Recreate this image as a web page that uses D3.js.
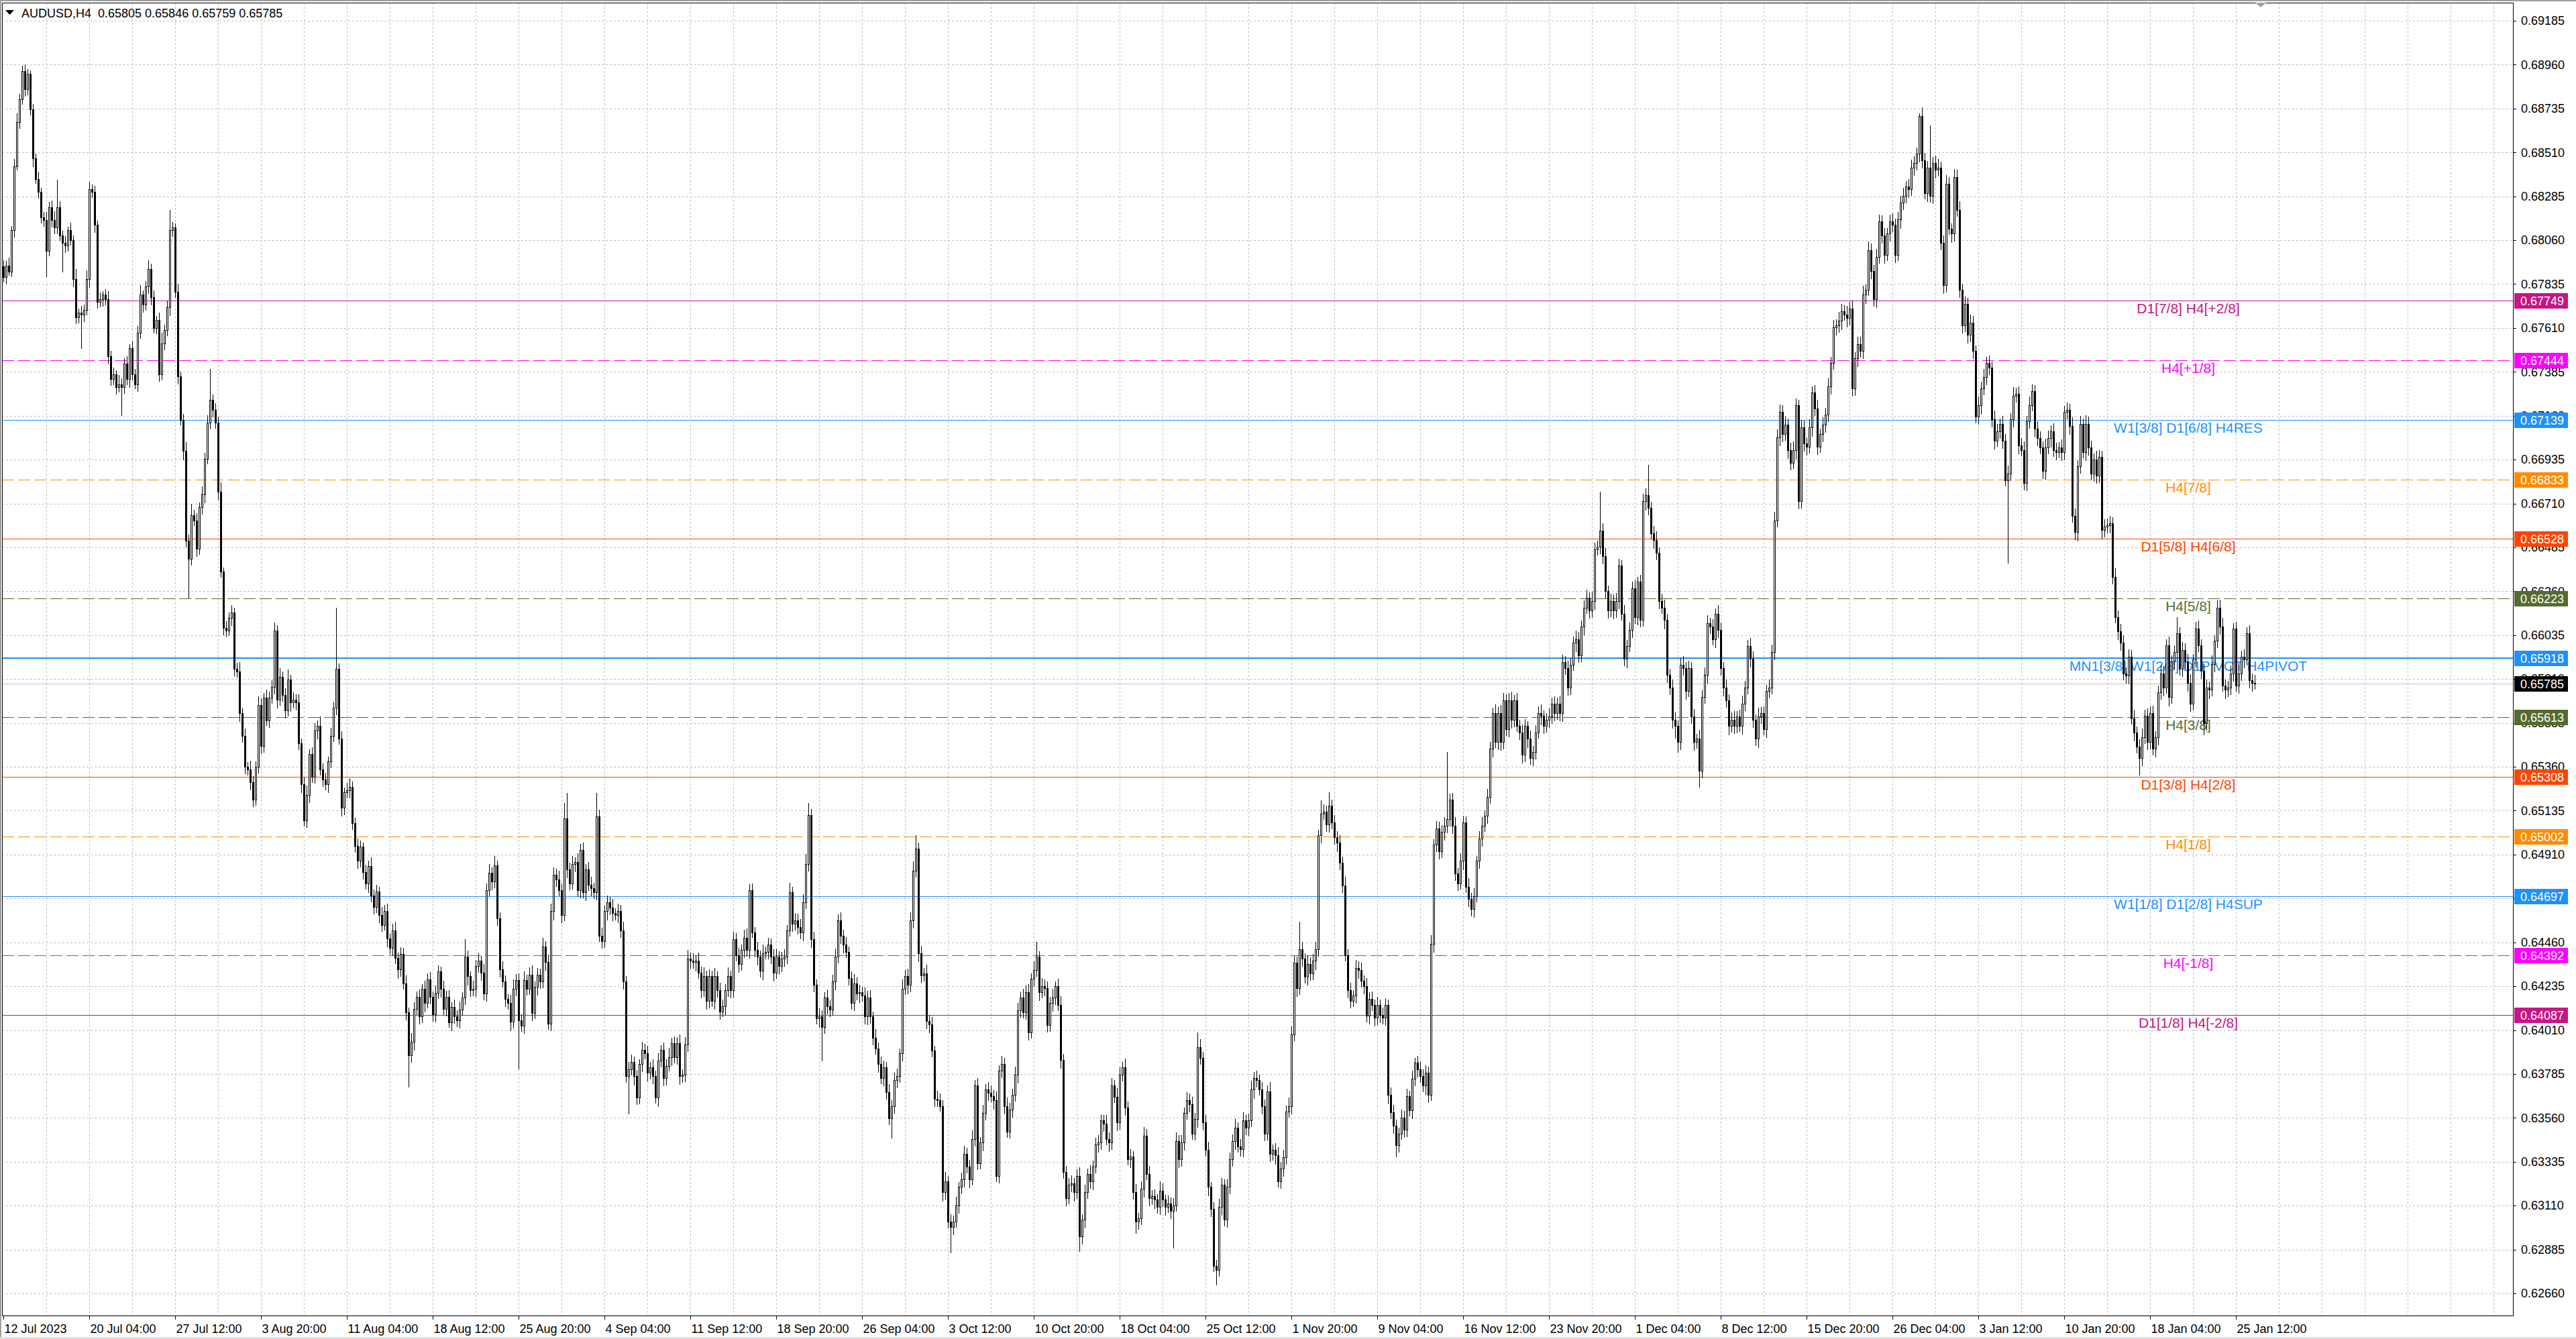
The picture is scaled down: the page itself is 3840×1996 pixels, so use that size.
<!DOCTYPE html>
<html><head><meta charset="utf-8">
<script src="https://cdn.jsdelivr.net/npm/d3@7"></script>
<style>
body{margin:0;background:#fff}
svg{display:block}
text{font-family:"Liberation Sans",Arial,sans-serif}
</style>
</head><body>
<svg id="c" width="3840" height="1996"></svg>
<script>
// ---------------- DATA (prices in 1e-5 units) ----------------
const symbolTitle = "AUDUSD,H4";
const lastOHLC = ["0.65805", "0.65846", "0.65759", "0.65785"];
const firstOpen = 67927;
const closes = [
67870,67930,67900,68111,68440,68664,68782,68927,68835,68914,68730,68480,68374,68309,68177,68164,68006,68230,68164,68124,
68230,68085,68045,68032,68111,68059,67861,67664,67690,67677,67703,67861,68322,68309,68138,67743,67756,67782,67756,67466,
67348,67374,67308,67322,67308,67427,67348,67506,67374,67322,67585,67782,67730,67822,67914,67769,67611,67651,67374,67532,
67598,67716,68111,68124,67795,67361,67137,66979,66519,66427,66650,66624,66479,66690,66756,66940,67124,67243,67190,67124,
66769,66361,66071,66058,66124,66150,65861,65848,65637,65519,65361,65348,65282,65190,65361,65677,65466,65716,65598,65716,
65769,66058,65703,65821,65729,65650,65808,65690,65703,65690,65479,65269,65084,65216,65427,65308,65545,65571,65348,65295,
65269,65387,65519,65663,65861,65506,65150,65229,65240,65256,65071,64953,64880,64950,64820,64760,64850,64700,64640,64720,
64600,64550,64620,64480,64430,64520,64380,64320,64400,64250,64100,63880,63950,64120,64180,64080,64220,64150,64270,64180,
64090,64200,64310,64220,64120,64180,64050,64130,64080,64060,64115,64178,64385,64286,64214,64223,64340,64367,64304,64196,
64727,64817,64772,64853,64583,64322,64259,64169,64151,64052,64223,64268,64061,64034,64268,64223,64295,64097,64232,64295,
64259,64439,64358,64043,64619,64808,64781,64727,64601,65096,64835,64763,64862,64871,64727,64934,64718,64835,64754,64736,
64718,65105,64493,64466,64619,64664,64637,64610,64601,64619,64520,64259,63773,63809,63845,63773,63665,63836,63908,63890,
63791,63818,63773,63665,63854,63908,63764,63827,63872,63944,63872,63944,63773,63782,63935,64376,64367,64358,64367,64304,
64214,64286,64160,64286,64160,64286,64214,64106,64133,64214,64286,64214,64475,64394,64349,64421,64484,64421,64727,64511,
64421,64385,64313,64403,64412,64448,64385,64304,64385,64340,64376,64385,64520,64718,64556,64574,64538,64511,64664,64862,
65114,64475,64241,64070,64079,64025,64178,64133,64115,64259,64385,64574,64493,64448,64412,64277,64151,64250,64196,64205,
64187,64079,64178,64079,63971,63917,63836,63764,63818,63692,63558,63620,63755,63773,63890,64223,64286,64241,64574,64826,
64942,64404,64291,64301,64055,64040,63904,63659,63650,63621,63178,63235,63027,62999,63027,63112,63206,63244,63376,63310,
63244,63452,63725,63329,63433,63584,63706,63687,63670,63650,63263,63801,63838,63621,63489,63603,63678,63782,64112,64178,
64102,64206,63999,64272,64319,64385,64206,64235,64225,64036,64150,64178,64235,64140,63857,63282,63150,63216,63225,63178,
63263,62952,63037,63178,63273,63235,63310,63423,63433,63546,63530,63452,63433,63725,63669,63537,63782,63820,63612,63348,
63360,63178,63027,63046,63197,63470,63273,63150,63160,63140,63103,63187,63140,63103,63121,63084,63112,63442,63348,63433,
63584,63650,63631,63480,63555,63923,63867,63537,63395,63206,63093,62801,62782,63103,63216,63037,63206,63348,63442,63508,
63414,63400,63546,63508,63546,63706,63763,63754,63706,63621,63480,63697,63376,63395,63367,63235,63301,63357,63593,63621,
63989,64357,64225,64423,64376,64282,64348,64301,64367,64423,65008,65121,65131,65065,65159,65074,64999,64970,64867,64753,
64395,64216,64159,64187,64329,64319,64263,64235,64084,64171,64138,64072,64138,64088,64072,64138,63677,63590,63520,63420,
63480,63560,63500,63670,63600,63759,63842,63810,63776,63726,63792,63677,64452,64960,65043,64927,65026,65059,65092,65191,
65059,64812,64763,64878,65075,64746,64681,64631,64697,64878,64993,65059,65108,65207,65454,65635,65487,65635,65487,65701,
65552,65701,65602,65701,65569,65536,65421,65569,65503,65404,65437,65536,65635,65620,65569,65602,65618,65684,65635,65684,
65635,65898,65865,65766,65882,65997,66013,65931,66079,66177,66227,66161,66211,66474,66490,66572,66441,66260,66161,66211,
66161,66211,66392,66145,65914,65980,66063,66276,66128,66309,66112,66721,66754,66688,66556,66523,66457,66211,66177,66112,
65832,65766,65602,65569,65487,65882,65865,65750,65865,65618,65487,65503,65339,65717,65832,66095,66079,66013,66145,66063,
65865,65766,65701,65569,65602,65569,65618,65569,65684,65766,65980,65914,65602,65503,65618,65635,65552,65750,65766,65947,
66622,67050,67181,67066,67115,66984,66918,66984,67214,66721,67099,67017,67000,67099,67280,67198,67000,67066,67115,67166,
67311,67431,67612,67624,67648,67697,67680,67660,67709,67299,67455,67528,67492,67781,67805,68010,67902,67757,67974,68155,
68083,67986,68095,68155,68140,67986,68167,68252,68288,68336,68320,68433,68457,68505,68698,68469,68300,68433,68288,68457,
68421,68433,68047,67829,68348,68119,68095,68384,68215,67805,67624,67733,67576,67636,67492,67154,67214,67299,67359,67431,
67407,67142,67033,67081,67118,67033,66828,66864,67142,67262,67274,67009,66985,66816,67130,67214,67287,67093,67045,66997,
66876,66997,67045,67081,66985,66973,66997,66973,67178,67190,67106,66647,66563,66900,67118,66973,67118,66997,66864,66937,
66852,66949,66575,66590,66599,66610,66333,66128,66056,65996,65839,65827,65923,65609,65537,65465,65404,65513,65622,65489,
65634,65453,65513,65742,65839,65766,65984,65718,65899,65947,66044,65863,65959,65899,65790,65682,65911,66068,65984,65851,
65585,65766,65754,65887,66008,66177,66080,65778,65754,65766,65839,66068,65778,65839,65923,65911,66044,65803,65790,65785
];
const upWick = [
30,25,40,20,35,45,28,26,33,22,18,30,24,36,20,28,40,25,32,44,
140,30,22,35,18,40,26,50,20,32,28,45,38,24,30,22,36,18,28,42,
25,34,20,46,30,28,38,22,40,26,35,48,20,30,44,26,32,20,38,52,
28,36,105,30,22,40,26,34,45,30,60,28,36,24,42,30,38,157,26,34,
30,48,22,36,28,40,24,32,50,26,38,22,44,30,28,46,34,24,40,30,
36,40,28,44,26,34,50,22,38,30,42,26,36,48,24,32,40,28,46,30,
34,26,40,30,316,28,38,24,36,44,30,26,40,32,22,38,28,46,30,36,
26,42,30,38,24,34,46,28,36,30,40,26,44,32,28,38,24,42,30,36,
28,40,32,26,44,30,36,24,38,30,42,28,90,34,26,40,30,38,24,46,
36,44,28,50,26,32,40,30,24,38,46,28,34,30,42,26,36,48,28,34,
30,44,26,38,40,36,28,46,34,80,130,32,40,26,44,30,38,28,36,42,
30,120,34,40,28,36,30,44,26,38,32,46,28,36,40,30,34,26,42,30,
38,28,44,30,36,26,40,32,46,28,34,30,42,26,38,44,30,36,28,40,
32,46,28,36,30,42,26,38,34,30,44,28,40,32,36,26,42,48,30,34,
28,40,32,44,26,36,30,38,42,28,34,40,30,46,28,36,32,40,44,50,
60,30,38,28,42,34,26,40,30,36,44,28,38,32,40,26,34,46,30,38,
28,40,32,36,26,44,30,38,34,28,42,30,36,40,26,46,32,38,40,50,
66,30,38,28,44,32,36,26,40,34,30,46,28,38,32,42,26,36,40,30,
34,44,28,38,30,42,26,36,40,32,46,30,38,28,44,34,30,40,36,28,
42,32,38,30,44,76,28,40,34,36,30,42,26,38,44,32,30,36,40,28,
34,42,30,38,26,44,32,36,40,30,28,46,34,38,30,42,36,28,44,32,
38,30,42,26,36,44,32,40,28,34,30,46,38,26,40,32,36,44,30,38,
28,42,34,36,30,76,40,32,38,44,26,36,30,42,34,28,40,36,32,46,
30,38,42,28,36,44,32,40,26,38,34,30,46,28,36,42,32,38,30,44,
40,34,30,142,38,28,44,36,32,40,30,66,36,28,70,34,40,30,38,32,
44,30,36,28,40,34,38,26,42,32,36,30,44,28,38,34,30,40,36,32,
28,42,34,38,30,44,26,36,40,32,38,30,46,28,40,36,34,42,345,30,
36,42,28,38,34,30,44,32,40,26,36,42,30,38,34,28,46,32,40,36,
30,38,44,28,36,32,40,34,26,42,30,38,36,44,28,34,40,30,38,32,
42,36,28,40,34,30,44,38,32,36,40,28,46,34,30,200,36,42,28,38,
32,40,36,28,44,30,38,34,42,26,36,40,32,154,30,38,44,28,36,40,
34,30,42,38,28,36,44,32,40,30,38,26,46,34,36,42,30,38,28,44,
36,32,40,30,38,44,28,36,42,34,30,40,38,26,44,32,36,30,42,38,
44,40,36,32,42,30,38,46,34,28,40,36,32,44,30,38,42,28,36,34,
40,32,38,30,44,36,28,42,34,40,30,38,36,44,28,42,34,30,40,36,
32,40,28,36,44,30,38,34,42,28,36,40,32,30,12,44,38,34,217,30,
36,42,30,38,46,34,28,40,36,44,32,38,30,42,36,28,46,34,40,32,
38,30,44,36,28,42,34,40,32,46,30,38,36,42,28,44,34,30,40,36,
32,44,38,30,40,36,28,42,34,38,30,46,36,32,40,28,44,38,34,30,
42,36,30,40,34,38,28,44,32,36,40,30,38,34,42,28,36,44,30,38,
34,40,30,36,44,38,28,42,32,36,84,30,40,34,38,44,28,36,42,30,
36,40,32,44,28,36,38,42,30,34,40,28,36,44,32,38,30,42,34,41
];
const dnWick = [
22,30,18,26,34,20,28,24,36,30,26,40,22,32,28,30,130,24,36,28,
30,26,145,34,28,22,38,30,26,170,32,24,40,28,36,30,22,34,26,38,
30,28,36,24,144,32,26,40,30,22,34,28,38,26,32,40,24,30,36,28,
34,26,40,30,28,36,22,44,30,200,32,26,38,28,34,40,24,30,36,26,
40,28,34,30,24,38,32,26,42,30,36,28,40,34,26,32,38,30,24,36,
28,34,40,26,32,38,30,44,28,36,30,40,26,34,38,28,32,42,30,36,
26,40,32,28,36,30,42,34,26,38,30,28,40,32,36,26,44,30,34,28,
38,32,26,40,30,36,28,42,34,30,38,160,32,40,28,36,30,44,26,34,
32,38,28,40,30,36,26,42,34,30,38,28,36,44,30,26,40,32,38,30,
36,28,42,30,34,40,26,38,32,44,30,36,250,28,40,34,30,38,26,42,
34,30,40,28,36,44,32,26,38,30,42,34,28,40,32,36,30,44,26,38,
32,40,28,36,30,42,34,38,26,40,32,36,30,190,28,44,34,30,38,26,
40,32,36,28,44,30,38,34,26,42,30,36,40,28,34,32,38,30,44,26,
36,30,42,34,28,40,32,38,26,44,30,36,34,28,42,30,38,32,40,26,
34,38,30,42,28,36,32,40,26,44,30,38,34,28,40,32,36,30,42,28,
36,40,32,28,44,170,30,38,34,26,42,30,36,40,28,34,32,38,30,44,
28,36,40,32,34,30,42,26,38,36,30,100,34,40,28,36,30,42,34,38,
30,40,34,28,36,42,30,38,32,26,44,34,30,130,36,28,40,32,38,30,
42,28,36,34,30,40,32,38,26,44,30,36,34,40,28,32,38,30,42,36,
28,34,40,30,36,32,44,28,38,34,30,42,36,28,40,32,38,30,34,44,
30,76,36,40,28,34,42,30,38,32,36,28,44,34,30,40,36,32,38,28,
42,34,56,36,30,40,28,38,34,44,30,36,32,40,28,38,190,30,42,34,
36,30,40,28,34,42,32,38,30,44,36,28,76,34,40,30,38,32,36,42,
28,36,40,32,38,30,44,34,28,40,36,32,38,30,42,28,36,40,34,30,
38,32,42,30,36,28,40,34,30,44,32,38,28,36,40,30,34,42,32,36,
30,40,34,28,38,44,32,36,30,42,28,38,34,40,30,36,44,32,38,60,
34,30,40,36,28,42,32,38,34,30,44,36,28,40,32,38,30,42,36,34,
40,32,36,28,44,30,38,34,42,28,36,40,30,38,32,44,28,36,40,34,
30,38,42,34,28,36,40,32,44,30,38,34,28,42,36,30,40,34,38,32,
36,42,30,38,34,28,44,36,32,40,30,38,34,42,28,36,40,32,38,30,
42,34,38,30,36,44,28,40,32,38,34,30,42,36,28,40,34,38,30,44,
40,36,44,60,50,38,34,42,30,36,40,32,83,34,30,42,36,28,40,38,
32,40,36,44,30,38,34,28,42,36,30,40,38,32,44,34,28,40,36,30,
38,32,42,36,30,40,34,28,44,38,32,36,40,30,42,34,38,28,36,40,
34,40,30,38,36,44,28,42,32,38,34,40,30,36,44,28,38,34,40,32,
36,42,30,38,34,40,28,44,32,36,40,30,38,34,42,36,28,40,32,38,
42,30,36,40,34,28,44,38,32,36,40,30,42,34,38,28,36,44,30,40,
34,38,42,30,36,40,28,422,34,38,32,44,30,36,40,34,28,42,38,32,
36,40,30,44,34,38,28,42,36,32,40,30,38,44,34,28,42,36,30,40,
38,32,44,36,30,40,34,28,42,38,32,36,40,30,44,34,84,38,32,40,
36,30,42,38,34,40,28,44,32,36,40,30,38,34,42,36,28,40,32,38,
60,36,42,30,38,34,40,28,44,32,36,40,30,38,34,42,28,36,40,26
];
const priceTicks = [0.69185,0.68960,0.68735,0.68510,0.68285,0.68060,0.67835,0.67610,0.67385,0.67160,
0.66935,0.66710,0.66485,0.66260,0.66035,0.65810,0.65585,0.65360,0.65135,0.64910,0.64685,0.64460,
0.64235,0.64010,0.63785,0.63560,0.63335,0.63110,0.62885,0.62660];
const timeTickBars = [0,32,64,96,128,160,192,224,256,288,320,352,384,416,448,480,512,544,576,608,640,672,704,736,768,800,832];
const timeTickLabels = ["12 Jul 2023","20 Jul 04:00","27 Jul 12:00","3 Aug 20:00","11 Aug 04:00","18 Aug 12:00",
"25 Aug 20:00","4 Sep 04:00","11 Sep 12:00","18 Sep 20:00","26 Sep 04:00","3 Oct 12:00","10 Oct 20:00",
"18 Oct 04:00","25 Oct 12:00","1 Nov 20:00","9 Nov 04:00","16 Nov 12:00","23 Nov 20:00","1 Dec 04:00",
"8 Dec 12:00","15 Dec 20:00","26 Dec 04:00","3 Jan 12:00","10 Jan 20:00","18 Jan 04:00","25 Jan 12:00"];
const levelPrices = [0.67749,0.67444,0.67139,0.66833,0.66528,0.66223,0.65918,0.65613,0.65308,0.65002,0.64697,0.64392,0.64087];
const levelNames = ["D1[7/8] H4[+2/8]","H4[+1/8]","W1[3/8] D1[6/8] H4RES","H4[7/8]","D1[5/8] H4[6/8]","H4[5/8]",
"MN1[3/8] W1[2/8] D1PIVOT H4PIVOT","H4[3/8]","D1[3/8] H4[2/8]","H4[1/8]","W1[1/8] D1[2/8] H4SUP","H4[-1/8]","D1[1/8] H4[-2/8]"];
const currentPrice = 0.65785;

// ---------------- STYLES ----------------
const levelStyles = [
 {c:"#C71585",dash:false,w:1},{c:"#FF00FF",dash:true,w:1},{c:"#1E90FF",dash:false,w:1},
 {c:"#FF8C00",dash:true,w:1},{c:"#FF4500",dash:false,w:1},{c:"#556B2F",dash:true,w:1},
 {c:"#1E90FF",dash:false,w:2},{c:"#556B2F",dash:true,w:1},{c:"#FF4500",dash:false,w:1},
 {c:"#FF8C00",dash:true,w:1},{c:"#1E90FF",dash:false,w:1},{c:"#FF00FF",dash:true,w:1},
 {c:"#C71585",dash:false,w:1}];

const L=3, T=4, R=3746, B=1961;
const svg = d3.select("#c");
const x = d3.scaleLinear().domain([0, 839]).range([5, 3361]);
const y = d3.scaleLinear().domain([0.62660, 0.69185]).range([1928, 31]);
const yp = v => Math.round(y(v / 1e5));

svg.append("rect").attr("width",3840).attr("height",1996).attr("fill","#fff");

// grid
const grid = svg.append("g").attr("shape-rendering","crispEdges").attr("stroke","#C0C0C0").attr("stroke-dasharray","3,3");
priceTicks.forEach(p=>{
  const yy = Math.round(y(p))+0.5;
  grid.append("line").attr("x1",L).attr("x2",R).attr("y1",yy).attr("y2",yy);
});
for (let b=16; x(b) < R-20; b+=16){
  const xx = Math.round(x(b))+0.5;
  grid.append("line").attr("x1",xx).attr("x2",xx).attr("y1",T).attr("y2",B);
}

// level lines
const lv = svg.append("g").attr("shape-rendering","crispEdges");
levelPrices.forEach((p,i)=>{
  const s = levelStyles[i];
  const yy = Math.round(y(p)) + (s.w===2?0:0.5);
  lv.append("line").attr("x1",L).attr("x2",R).attr("y1",yy).attr("y2",yy)
    .attr("stroke",s.c).attr("stroke-width",s.w).attr("stroke-dasharray",s.dash?"18,6":null);
});
// current price line
{
  const yy = Math.round(y(currentPrice))+0.5;
  lv.append("line").attr("x1",L).attr("x2",R).attr("y1",yy).attr("y2",yy).attr("stroke","#C0C0C0");
}
// level labels
const lbl = svg.append("g").style("font-family",'"DejaVu Sans",Verdana,sans-serif').style("font-size","21px");
levelPrices.forEach((p,i)=>{
  lbl.append("text").attr("x",3262).attr("y",Math.round(y(p))+19).attr("text-anchor","middle")
    .attr("fill",levelStyles[i].c).text(levelNames[i]);
});

// candles
const bars = closes.map((c,i)=>{
  const o = i===0 ? firstOpen : closes[i-1];
  return {i, o, c, h: Math.max(o,c)+upWick[i], l: Math.min(o,c)-dnWick[i]};
});
const cg = svg.append("g").attr("shape-rendering","crispEdges");
bars.forEach(d=>{
  const cx = Math.round(x(d.i));
  const yh = yp(d.h), yl = yp(d.l), yo = yp(d.o), yc = yp(d.c);
  cg.append("rect").attr("x",cx).attr("y",yh).attr("width",1).attr("height",Math.max(1,yl-yh+1)).attr("fill","#000");
  const top = Math.min(yo,yc), hgt = Math.abs(yo-yc);
  cg.append("rect").attr("x",cx-1).attr("y",top).attr("width",3).attr("height",hgt+1).attr("fill","#000");
  if (d.c > d.o && hgt >= 2) {
    cg.append("rect").attr("x",cx).attr("y",top+1).attr("width",1).attr("height",hgt-1).attr("fill","#fff");
  }
});

// frame
const fr = svg.append("g").attr("shape-rendering","crispEdges");
fr.append("rect").attr("x",0).attr("y",0).attr("width",3840).attr("height",2).attr("fill","#A0A0A0");
fr.append("rect").attr("x",0).attr("y",0).attr("width",2).attr("height",1996).attr("fill","#A0A0A0");
fr.append("line").attr("x1",L+0.5).attr("x2",L+0.5).attr("y1",T).attr("y2",B).attr("stroke","#000");
fr.append("line").attr("x1",L).attr("x2",R).attr("y1",T+0.5).attr("y2",T+0.5).attr("stroke","#000");
fr.append("line").attr("x1",R+0.5).attr("x2",R+0.5).attr("y1",T).attr("y2",B+1).attr("stroke","#000");
fr.append("line").attr("x1",L).attr("x2",R+1).attr("y1",B+0.5).attr("y2",B+0.5).attr("stroke","#000");
fr.append("rect").attr("x",0).attr("y",1993).attr("width",3840).attr("height",3).attr("fill","#E0E0E0");

// right price axis
const yAxis = d3.axisRight(y).tickValues(priceTicks).tickFormat(d3.format(".5f")).tickSize(4).tickPadding(7);
const ya = svg.append("g").attr("transform",`translate(${R+1},0)`).call(yAxis);
ya.select(".domain").remove();
ya.selectAll("text").style("font-size","18px").style("font-family",'"Liberation Sans",Arial,sans-serif').attr("fill","#000");
ya.selectAll("line").attr("stroke","#000").attr("shape-rendering","crispEdges");

// price tags
const tags = svg.append("g");
const tagP = levelPrices.concat([currentPrice]);
const tagC = levelStyles.map(s=>s.c).concat(["#000000"]);
tagP.forEach((p,i)=>{
  const yy = Math.round(y(p));
  tags.append("rect").attr("x",3748).attr("y",yy-11).attr("width",80).attr("height",23).attr("fill",tagC[i]);
  tags.append("text").attr("x",3757).attr("y",yy+7).attr("fill","#fff").style("font-size","18px").text(d3.format(".5f")(p));
});

// bottom time axis
const xAxis = d3.axisBottom(x).tickValues(timeTickBars).tickFormat((d,i)=>timeTickLabels[i]).tickSize(5).tickPadding(7);
const xa = svg.append("g").attr("transform",`translate(0,${B+1})`).call(xAxis);
xa.select(".domain").remove();
xa.selectAll("text").style("font-size","18px").style("font-family",'"Liberation Sans",Arial,sans-serif')
  .attr("text-anchor","start").attr("dx","1").attr("fill","#000");
xa.selectAll("line").attr("stroke","#000").attr("shape-rendering","crispEdges");

// title
svg.append("path").attr("d","M8,15 L21,15 L14.5,22 Z").attr("fill","#000");
svg.append("text").attr("x",32).attr("y",26).style("font-size","18px").attr("fill","#000")
  .attr("xml:space","preserve").text(symbolTitle + "  " + lastOHLC.join(" "));

// chart shift marker
svg.append("path").attr("d","M3362,4 L3378,4 L3370,11 Z").attr("fill","#A0A0A0");
</script>
</body></html>
